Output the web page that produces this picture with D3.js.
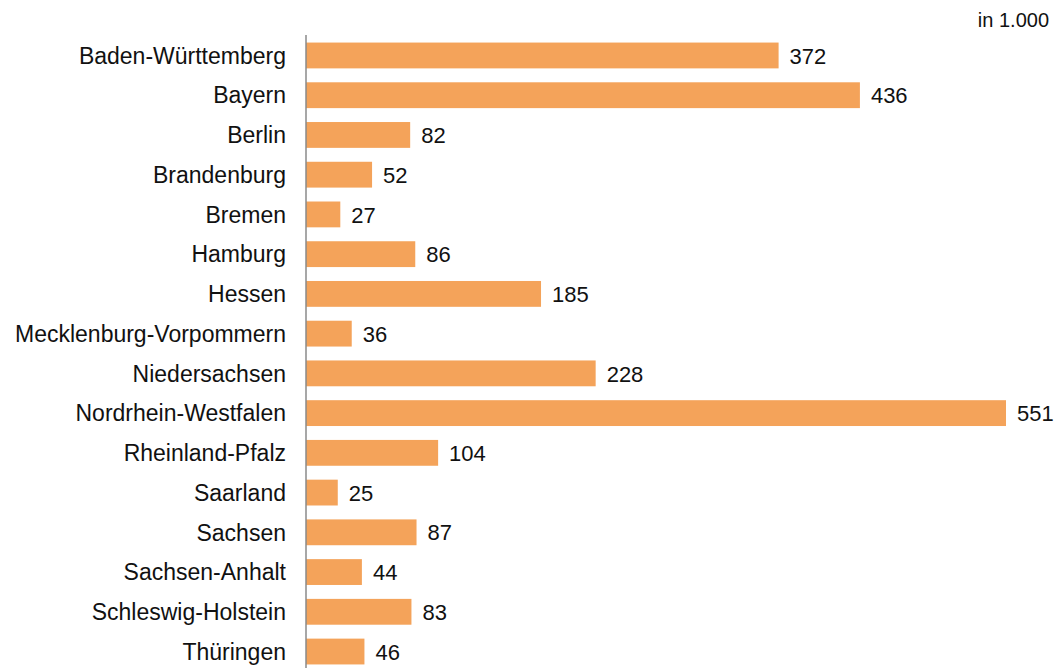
<!DOCTYPE html>
<html>
<head>
<meta charset="utf-8">
<script src="https://cdn.jsdelivr.net/npm/d3@7"></script>
<style>
  body { margin: 0; background: #fff; }
  text { font-family: "Liberation Sans", Arial, sans-serif; fill: #111; }
</style>
</head>
<body>
<script>
const w = 1059;
const h = 668;

const states = [
    "Baden-Württemberg", "Bayern", "Berlin", "Brandenburg", "Bremen", "Hamburg",
    "Hessen", "Mecklenburg-Vorpommern", "Niedersachsen", "Nordrhein-Westfalen",
    "Rheinland-Pfalz", "Saarland", "Sachsen", "Sachsen-Anhalt",
    "Schleswig-Holstein", "Thüringen"
];
const values = [372, 436, 82, 52, 27, 86, 185, 36, 228, 551, 104, 25, 87, 44, 83, 46];
const unitLabel = "in 1.000";

const data = states.map((s, i) => ({state: s, value: values[i]}));

const svg = d3.select('body').append('svg')
    .attr('width', w)
    .attr('height', h);

const x = d3.scaleLinear()
    .domain([0, 551])
    .range([306, 1006]);

const y = d3.scaleBand()
    .domain(states)
    .range([35.6, 671.4])
    .paddingInner(0.35)
    .paddingOuter(0.175);

// bars
svg.selectAll('rect.bar')
    .data(data)
    .enter()
    .append('rect')
    .attr('class', 'bar')
    .attr('x', x(0))
    .attr('y', d => y(d.state))
    .attr('width', d => x(d.value) - x(0))
    .attr('height', y.bandwidth())
    .attr('fill', '#F4A35A');

// category axis (line only, labels drawn by hand)
const axis = svg.append('g')
    .attr('transform', `translate(${x(0)},0)`)
    .call(d3.axisLeft(y).tickSize(0).tickPadding(20));
axis.select('.domain')
    .attr('d', `M0,35V${h}`)
    .attr('stroke', '#8a8a8a')
    .attr('stroke-width', 1.5);
axis.selectAll('.tick text')
    .attr('font-size', '23px')
    .attr('font-family', '"Liberation Sans", Arial, sans-serif')
    .attr('fill', '#111')
    .attr('dy', '0.36em');

// value labels
svg.selectAll('text.val')
    .data(data)
    .enter()
    .append('text')
    .attr('class', 'val')
    .attr('x', d => x(d.value) + 11)
    .attr('y', d => y(d.state) + y.bandwidth() / 2)
    .attr('dy', '0.37em')
    .attr('font-size', '22px')
    .text(d => d.value);

svg.append('text')
    .attr('x', 1049)
    .attr('y', 27)
    .attr('text-anchor', 'end')
    .attr('font-size', '20px')
    .text(unitLabel);
</script>
</body>
</html>
